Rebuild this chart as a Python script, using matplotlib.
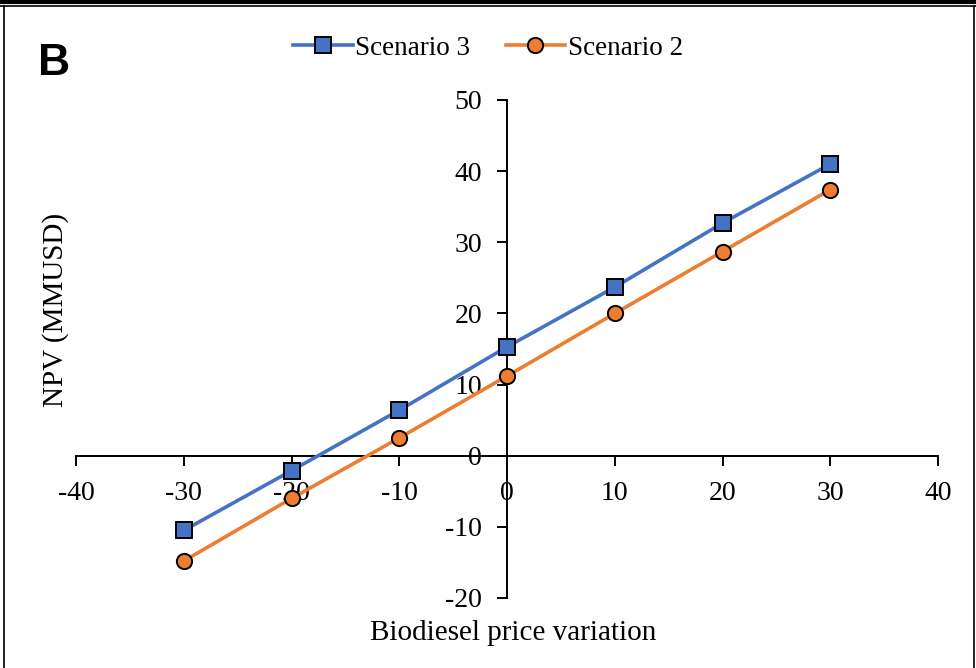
import numpy as np
import matplotlib.pyplot as plt
from matplotlib.lines import Line2D

# price variation (%) and NPV (MMUSD)
price_var = [-30, -20, -10, 0, 10, 20, 30]
npv_s3 = [-10.5, -2.1, 6.4, 15.3, 23.7, 32.7, 41.0]
npv_s2 = [-14.8, -6.0, 2.5, 11.2, 20.0, 28.7, 37.4]
xticks = [-40, -30, -20, -10, 0, 10, 20, 30, 40]
yticks = [-20, -10, 0, 10, 20, 30, 40, 50]

plt.rcParams['font.family'] = ['Liberation Serif', 'DejaVu Serif']
plt.rcParams['axes.unicode_minus'] = False

fig = plt.figure(figsize=(9.76, 6.68), dpi=100)
ax = fig.add_axes([0.0779, 0.1048, 0.8832, 0.7455])

ax.plot(price_var, npv_s3, color='#4472C4', lw=2.6, marker='s', ms=11,
        mfc='#4472C4', mec='black', mew=1.4, label='Scenario 3', zorder=3)
ax.plot(price_var, npv_s2, color='#ED7D31', lw=2.6, marker='o', ms=11,
        mfc='#ED7D31', mec='black', mew=1.4, label='Scenario 2', zorder=3)

ax.set_xlim(-40, 40)
ax.set_ylim(-20, 50)
ax.set_xticks(xticks)
ax.set_yticks(yticks)
ax.spines['left'].set_position(('data', 0))
ax.spines['bottom'].set_position(('data', 0))
ax.spines['right'].set_visible(False)
ax.spines['top'].set_visible(False)
for s in ['left', 'bottom']:
    ax.spines[s].set_linewidth(1.4)
ax.tick_params(axis='x', direction='out', length=7, width=1.4, labelsize=20, pad=11)
ax.tick_params(axis='y', direction='out', length=7, width=1.4, labelsize=20, pad=11)

fig.text(0.526, 0.052, 'Biodiesel price variation', ha='center', va='center', fontsize=21)
fig.text(0.057, 0.536, 'NPV (MMUSD)', ha='center', va='center', rotation=90, fontsize=21)
fig.text(0.039, 0.905, 'B', ha='left', va='center', fontsize=32, fontweight='bold',
         family=['Liberation Sans Narrow', 'Liberation Sans'])

ax.legend(loc='center', bbox_to_anchor=(0.5, 0.928), bbox_transform=fig.transFigure,
          ncol=2, frameon=False, fontsize=19.5, handlelength=2.2, handletextpad=0.1,
          columnspacing=1.3)

# frame around the panel
fig.add_artist(Line2D([0, 1], [0.997, 0.997], color='black', lw=3, transform=fig.transFigure))
fig.add_artist(Line2D([0, 1], [0.991, 0.991], color='black', lw=1.2, transform=fig.transFigure))
fig.add_artist(Line2D([0.004, 0.004], [0, 0.991], color='black', lw=1.2, transform=fig.transFigure))
fig.add_artist(Line2D([0.998, 0.998], [0, 0.991], color='black', lw=1.2, transform=fig.transFigure))

fig.savefig('out.png', dpi=100)
